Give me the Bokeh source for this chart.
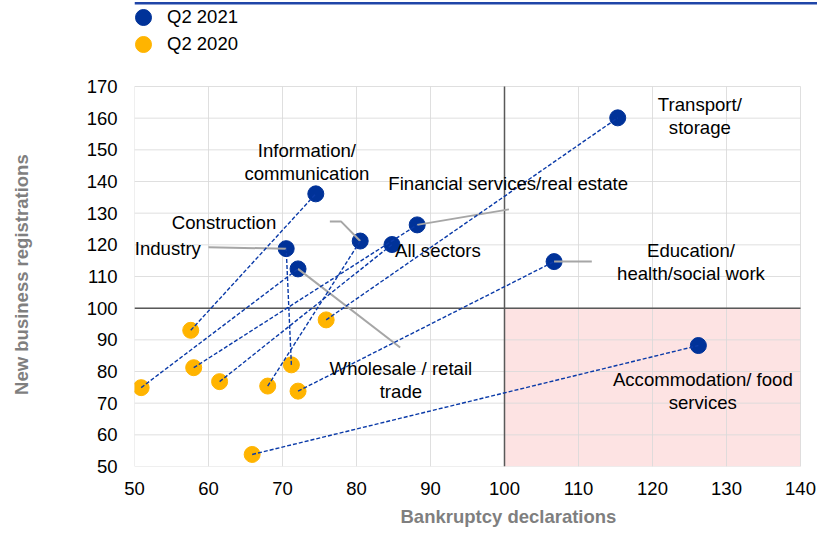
from bokeh.plotting import figure
from bokeh.models import BoxAnnotation, Legend, LegendItem, FixedTicker, Title
from bokeh.core.properties import value
from bokeh.embed import file_html
from bokeh.resources import INLINE

# ---- data ----
sectors = ["Transport/storage", "Information/communication", "Financial services/real estate",
           "All sectors", "Construction", "Industry", "Wholesale / retail trade",
           "Education/health/social work", "Accommodation/ food services"]
bankr_2021 = [115.3, 74.5, 88.2, 84.8, 80.5, 70.5, 72.1, 106.7, 126.2]
regis_2021 = [160.1, 136.1, 126.3, 120.1, 121.2, 118.8, 112.4, 114.7, 88.2]
bankr_2020 = [75.9, 57.6, 58.0, 61.5, 68.0, 71.2, 50.9, 72.1, 65.9]
regis_2020 = [96.3, 93.0, 81.2, 76.8, 75.4, 82.1, 74.9, 73.8, 53.8]

x_ticks = [50, 60, 70, 80, 90, 100, 110, 120, 130, 140]
y_ticks = [50, 60, 70, 80, 90, 100, 110, 120, 130, 140, 150, 160, 170]
BASE = 100  # reference level of both indices

# ---- label texts and positions ----
label_text = ["Transport/\nstorage", "Information/\ncommunication", "Financial services/real estate",
              "All sectors", "Construction", "Industry", "Wholesale / retail\ntrade",
              "Education/\nhealth/social work", "Accommodation/ food\nservices"]
label_x = [126.4, 73.3, 100.5, 91.0, 62.1, 54.5, 86.0, 125.2, 126.8]
label_y = [160.8, 146.2, 139.4, 118.2, 127.1, 118.8, 77.3, 114.7, 73.85]

# leader lines: sector index -> label-side points
leader_pts = {
    2: ([100.6], [131.2]),
    4: ([77.9, 76.4], [127.4, 127.4]),
    5: ([60.0], [119.2]),
    6: ([85.9], [87.6]),
    7: ([111.8], [114.7]),
}

FONT = "Liberation Sans"
BLUE = "#003299"
YELLOW = "#ffb400"
GRID = "#d9d9d9"

xmin, xmax = x_ticks[0], x_ticks[-1]
ymin, ymax = y_ticks[0], y_ticks[-1]
# frame extends to the right edge and to the top of the page (room for legend)
x_hi = xmax + 17 / (666 / (xmax - xmin))
y_hi = ymax + 86 / (380 / (ymax - ymin))

p = figure(frame_width=683, frame_height=466, x_range=(xmin, x_hi), y_range=(ymin, y_hi),
           output_backend="svg", toolbar_location=None,
           min_border_left=134, min_border_top=0, min_border_right=0, min_border_bottom=67,
           background_fill_color="white", border_fill_color="white")
p.outline_line_color = None
p.grid.visible = False

for ax in (p.xaxis[0], p.yaxis[0]):
    ax.axis_line_color = None
    ax.major_tick_line_color = None
    ax.minor_tick_line_color = None
    ax.major_label_text_font = FONT
    ax.major_label_text_font_size = "18.5px"
    ax.major_label_text_color = "#000000"
    ax.major_tick_out = 0
    ax.major_tick_in = 0

p.xaxis.ticker = FixedTicker(ticks=x_ticks)
p.yaxis.ticker = FixedTicker(ticks=y_ticks)
p.xaxis.major_label_standoff = 15
p.yaxis.major_label_standoff = 17

# y-axis title (trailing no-break spaces shift it down to the centre of the plotted band)
p.yaxis.bounds = (ymin, ymax)
p.yaxis.axis_label = "New business registrations" + "\u00a0" * 16
p.yaxis.axis_label_standoff = 52
p.yaxis.axis_label_text_font = FONT
p.yaxis.axis_label_text_font_size = "18.5px"
p.yaxis.axis_label_text_font_style = "bold"
p.yaxis.axis_label_text_color = "#7f7f7f"

# x-axis title
p.add_layout(Title(text="Bankruptcy declarations", align="left", offset=266, standoff=12,
                   text_font=FONT, text_font_size="18.5px", text_font_style="bold",
                   text_color="#7f7f7f"), "below")

# shaded quadrant
p.add_layout(BoxAnnotation(left=BASE, right=xmax, bottom=ymin, top=BASE, level="underlay",
                           fill_color="#fde3e3", fill_alpha=1, line_color=None))

# grid lines
p.segment(x0=x_ticks, y0=[ymin] * len(x_ticks), x1=x_ticks, y1=[ymax] * len(x_ticks),
          line_color=GRID, line_width=1, line_alpha=0.85)
p.segment(x0=[xmin] * len(y_ticks), y0=y_ticks, x1=[xmax] * len(y_ticks), y1=y_ticks,
          line_color=GRID, line_width=1, line_alpha=0.85)

# reference lines
p.segment(x0=[xmin, BASE], y0=[BASE, ymin], x1=[xmax, BASE], y1=[BASE, ymax],
          line_color="#595959", line_width=1.5)

# top decorative rule
p.add_layout(BoxAnnotation(left=xmin, right=x_hi, top=y_hi - 1.5 / (380 / (ymax - ymin)),
                           bottom=y_hi - 4 / (380 / (ymax - ymin)),
                           fill_color="#1f45a8", fill_alpha=1, line_color=None))

# points
r20 = p.scatter(bankr_2020, regis_2020, size=16, fill_color=YELLOW, line_color=YELLOW)
r21 = p.scatter(bankr_2021, regis_2021, size=16, fill_color=BLUE, line_color=BLUE)

# leader lines
for i, (lx, ly) in leader_pts.items():
    p.line([bankr_2021[i]] + lx, [regis_2021[i]] + ly, line_color="#a6a6a6", line_width=2)

# dashed connectors
p.segment(x0=bankr_2020, y0=regis_2020, x1=bankr_2021, y1=regis_2021,
          line_color="#0a3aa8", line_width=1.4, line_dash="4 2")

# labels
p.text(x=label_x, y=label_y, text=label_text, text_font=value(FONT), text_font_size="18.6px",
       text_align="center", text_baseline="middle", text_color="#000000", text_line_height=1.1)

# legends (one per item, placed in the top band of the frame)
for r, lab, yloc in ((r21, "Q2 2021", 429), (r20, "Q2 2020", 402)):
    lg = Legend(items=[LegendItem(label=lab, renderers=[r])], location=(-11, yloc),
                glyph_width=40, glyph_height=40, label_standoff=4, padding=0, margin=0,
                border_line_color=None, background_fill_alpha=0,
                label_text_font=FONT, label_text_font_size="18.5px", label_text_color="#000000")
    p.add_layout(lg, "center")

open("out.html", "w").write(file_html(p, INLINE))
